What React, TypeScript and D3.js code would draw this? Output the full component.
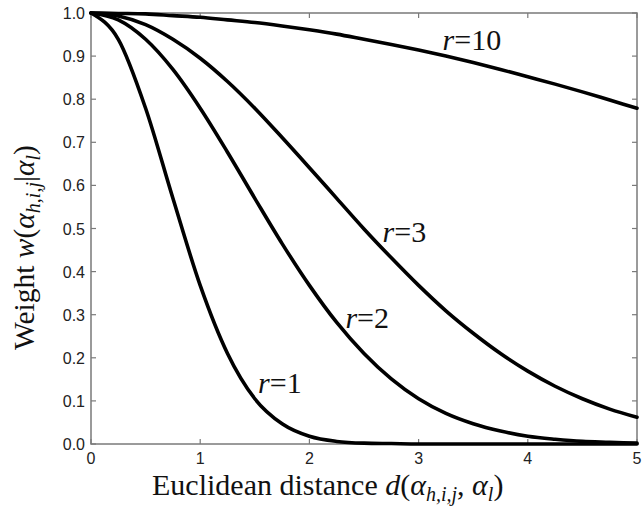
import * as d3 from "d3";
import { useEffect, useRef } from "react";

// distance values along the x axis
const distance = [0, 0.25, 0.5, 0.75, 1, 1.25, 1.5, 1.75, 2, 2.25, 2.5, 2.75, 3, 3.25, 3.5, 3.75, 4, 4.25, 4.5, 4.75, 5];

// weight
const weightR1 = [1.0, 0.939, 0.779, 0.57, 0.368, 0.21, 0.105, 0.047, 0.018, 0.006, 0.002, 0.001, 0, 0, 0, 0, 0, 0, 0, 0, 0];
const weightR2 = [1.0, 0.984, 0.939, 0.869, 0.779, 0.677, 0.57, 0.465, 0.368, 0.282, 0.21, 0.151, 0.105, 0.071, 0.047, 0.03, 0.018, 0.011, 0.006, 0.004, 0.002];
const weightR3 = [1.0, 0.993, 0.973, 0.939, 0.895, 0.841, 0.779, 0.711, 0.641, 0.57, 0.499, 0.432, 0.368, 0.309, 0.257, 0.21, 0.169, 0.134, 0.105, 0.081, 0.062];
const weightR10 = [1.0, 0.999, 0.998, 0.994, 0.99, 0.984, 0.978, 0.97, 0.961, 0.951, 0.939, 0.927, 0.914, 0.9, 0.885, 0.869, 0.852, 0.835, 0.817, 0.798, 0.779];

const seriesNames = ["1", "2", "3", "10"];
// where each r label sits, in data units (distance, weight at baseline)
const labelPos = [
  [1.53, 0.118],
  [2.33, 0.27],
  [2.67, 0.468],
  [3.22, 0.914],
];

const xTicks = [0, 1, 2, 3, 4, 5];
const yTicks = [0, 0.1, 0.2, 0.3, 0.4, 0.5, 0.6, 0.7, 0.8, 0.9, 1.0];

const width = 642;
const height = 511;

const App = () => {
  const svgRef = useRef<SVGSVGElement>(null);

  useEffect(() => {
    const svg = d3.select(svgRef.current);
    svg.selectAll("*").remove();

    const margin = { top: 13, right: 5, bottom: 67, left: 91 };
    const x = d3.scaleLinear().domain([0, 5]).range([margin.left, width - margin.right]);
    const y = d3.scaleLinear().domain([0, 1]).range([height - margin.bottom, margin.top]);

    const axisColor = "#7a7a7a";
    const tickFont = "'Liberation Sans', Arial, sans-serif";
    const serif = "'Liberation Serif', 'Times New Roman', serif";

    // plot frame
    svg
      .append("rect")
      .attr("x", x(0))
      .attr("y", y(1))
      .attr("width", x(5) - x(0))
      .attr("height", y(0) - y(1))
      .attr("fill", "none")
      .attr("stroke", axisColor)
      .attr("stroke-width", 1.5);

    // inward ticks on all four sides
    const tickLen = 5;
    xTicks.forEach((t) => {
      svg.append("line").attr("x1", x(t)).attr("x2", x(t)).attr("y1", y(0)).attr("y2", y(0) - tickLen)
        .attr("stroke", axisColor).attr("stroke-width", 1.2);
      svg.append("line").attr("x1", x(t)).attr("x2", x(t)).attr("y1", y(1)).attr("y2", y(1) + tickLen)
        .attr("stroke", axisColor).attr("stroke-width", 1.2);
      svg.append("text")
        .attr("x", x(t))
        .attr("y", y(0) + 19.5)
        .attr("text-anchor", "middle")
        .attr("font-family", tickFont)
        .attr("font-size", 16)
        .attr("fill", "#222")
        .text(d3.format("d")(t));
    });
    yTicks.forEach((t) => {
      svg.append("line").attr("x1", x(0)).attr("x2", x(0) + tickLen).attr("y1", y(t)).attr("y2", y(t))
        .attr("stroke", axisColor).attr("stroke-width", 1.2);
      svg.append("line").attr("x1", x(5)).attr("x2", x(5) - tickLen).attr("y1", y(t)).attr("y2", y(t))
        .attr("stroke", axisColor).attr("stroke-width", 1.2);
      svg.append("text")
        .attr("x", x(0) - 6)
        .attr("y", y(t) + 6)
        .attr("text-anchor", "end")
        .attr("font-family", tickFont)
        .attr("font-size", 16)
        .attr("fill", "#222")
        .text(d3.format(".1f")(t));
    });

    // the curves
    const line = d3
      .line<number>()
      .x((_, i) => x(distance[i]))
      .y((d) => y(d))
      .curve(d3.curveMonotoneX);

    [weightR1, weightR2, weightR3, weightR10].forEach((s) => {
      svg.append("path")
        .attr("d", line(s))
        .attr("fill", "none")
        .attr("stroke", "#000")
        .attr("stroke-width", 3.6)
        .attr("stroke-linecap", "round");
    });

    // r= labels
    seriesNames.forEach((name, i) => {
      const t = svg.append("text")
        .attr("x", x(labelPos[i][0]))
        .attr("y", y(labelPos[i][1]))
        .attr("font-family", serif)
        .attr("font-size", 30)
        .attr("fill", "#111");
      t.append("tspan").attr("font-style", "italic").text("r");
      t.append("tspan").text("=" + name);
    });

    // x axis title
    const xt = svg.append("text")
      .attr("x", 152)
      .attr("y", 495)
      .attr("font-family", serif)
      .attr("font-size", 30)
      .attr("fill", "#111");
    xt.append("tspan").text("Euclidean distance ");
    xt.append("tspan").attr("font-style", "italic").text("d");
    xt.append("tspan").text("(");
    xt.append("tspan").attr("font-style", "italic").text("α");
    xt.append("tspan").attr("font-style", "italic").attr("font-size", 20).attr("dy", 6).text("h,i,j");
    xt.append("tspan").attr("dy", -6).text(", ");
    xt.append("tspan").attr("font-style", "italic").text("α");
    xt.append("tspan").attr("font-style", "italic").attr("font-size", 20).attr("dy", 6).text("l");
    xt.append("tspan").attr("dy", -6).text(")");

    // y axis title
    const yt = svg.append("text")
      .attr("transform", `translate(34,350) rotate(-90)`)
      .attr("font-family", serif)
      .attr("font-size", 29.5)
      .attr("fill", "#111");
    yt.append("tspan").text("Weight ");
    yt.append("tspan").attr("font-style", "italic").text("w");
    yt.append("tspan").text("(");
    yt.append("tspan").attr("font-style", "italic").text("α");
    yt.append("tspan").attr("font-style", "italic").attr("font-size", 20).attr("dy", 6).text("h,i,j");
    yt.append("tspan").attr("dy", -6).text("|");
    yt.append("tspan").attr("font-style", "italic").text("α");
    yt.append("tspan").attr("font-style", "italic").attr("font-size", 20).attr("dy", 6).text("l");
    yt.append("tspan").attr("dy", -6).text(")");
  }, []);

  return (
    <svg
      ref={svgRef}
      width={width}
      height={height}
      style={{ position: "absolute", left: 0, top: 0, background: "#fff" }}
    />
  );
};

export default App;
